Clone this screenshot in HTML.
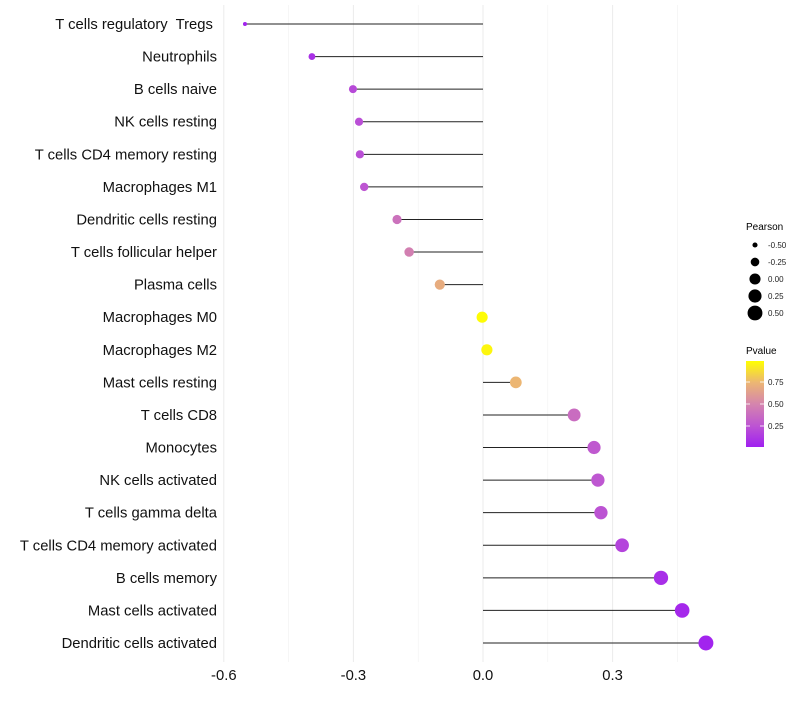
<!DOCTYPE html>
<html><head><meta charset="utf-8"><style>
body{margin:0;background:#fff;font-family:"Liberation Sans",Arial,sans-serif}
svg text{font-family:"Liberation Sans",Arial,sans-serif;white-space:pre}
</style></head><body>
<svg id="chart" width="800" height="700" viewBox="0 0 800 700" xml:space="preserve">
<defs>
<linearGradient id="pgrad" x1="0" y1="1" x2="0" y2="0">
<stop offset="0" stop-color="#a020f0"/>
<stop offset="0.25" stop-color="#bd55d2"/>
<stop offset="0.5" stop-color="#d585ad"/>
<stop offset="0.75" stop-color="#ecb673"/>
<stop offset="1" stop-color="#ffff00"/>
</linearGradient>
</defs>
<g id="grid"></g>
<g id="marks"></g>
<g id="ylabels"></g>
<g id="xlabels"></g>
<g>
<text x="746" y="230" font-size="10">Pearson</text>
<g id="sizeLegend"></g>
</g>
<g>
<text x="746" y="354" font-size="10">Pvalue</text>
<rect x="746" y="361" width="18" height="86" fill="url(#pgrad)"/>
<g id="colorLegend"></g>
</g>
</svg>
<script>
const categories=["T cells regulatory  Tregs ","Neutrophils","B cells naive","NK cells resting","T cells CD4 memory resting","Macrophages M1","Dendritic cells resting","T cells follicular helper","Plasma cells","Macrophages M0","Macrophages M2","Mast cells resting","T cells CD8","Monocytes","NK cells activated","T cells gamma delta","T cells CD4 memory activated","B cells memory","Mast cells activated","Dendritic cells activated"];
const pearson=[-0.551,-0.396,-0.301,-0.287,-0.285,-0.275,-0.199,-0.171,-0.100,-0.002,0.009,0.076,0.211,0.257,0.266,0.273,0.322,0.412,0.461,0.516];
const pvalue=[0.02,0.08,0.20,0.22,0.22,0.25,0.40,0.47,0.70,0.99,0.97,0.75,0.37,0.27,0.26,0.24,0.17,0.07,0.04,0.02];
const xTicks=[-0.6,-0.3,0.0,0.3];
const xTickLabels=["-0.6","-0.3","0.0","0.3"];
const xMinor=[-0.45,-0.15,0.15,0.45];
const sizeBreaks=[-0.5,-0.25,0,0.25,0.5];
const sizeLabels=["-0.50","-0.25","0.00","0.25","0.50"];
const colorBreaks=[0.25,0.5,0.75];
const colorLabels=["0.25","0.50","0.75"];

const NS="http://www.w3.org/2000/svg";
const X=v=>483+v*432;
const Y=i=>24+i*(643-24)/19;
const R=v=>Math.sqrt(Math.max(1,4+48.8*(v+0.551)));
const stops=[[0,[160,32,240]],[0.25,[189,85,210]],[0.5,[213,133,173]],[0.75,[236,182,115]],[1,[255,255,0]]];
function col(p){for(let k=1;k<stops.length;k++){if(p<=stops[k][0]){const a=stops[k-1],b=stops[k],t=(p-a[0])/(b[0]-a[0]);return "rgb("+a[1].map((c,j)=>Math.round(c+(b[1][j]-c)*t)).join(",")+")";}}return "rgb(255,255,0)";}
function mk(tag,at,parent){const e=document.createElementNS(NS,tag);for(const k in at)e.setAttribute(k,at[k]);parent.appendChild(e);return e;}
const grid=document.getElementById('grid');
xMinor.forEach(v=>{const l=mk('line',{x1:X(v),x2:X(v),y1:5,y2:662,stroke:'#f0f0f0','stroke-width':0.6},grid);

});
xTicks.forEach(v=>{const l=mk('line',{x1:X(v),x2:X(v),y1:5,y2:662,stroke:'#ebebeb','stroke-width':1},grid);

});
const marks=document.getElementById('marks');
categories.forEach((c,i)=>{
const l=mk('line',{x1:X(0),x2:X(pearson[i]),y1:Y(i),y2:Y(i),stroke:'#222','stroke-width':1},marks);


const d=mk('circle',{cx:X(pearson[i]),cy:Y(i),r:R(pearson[i]),fill:col(pvalue[i])},marks);


const t=mk('text',{x:217,y:Y(i)+5,'text-anchor':'end','font-size':14.8,fill:'#111'},document.getElementById('ylabels'));
t.textContent=c;


});
xTicks.forEach((v,i)=>{const t=mk('text',{x:X(v),y:680,'text-anchor':'middle','font-size':14.8,fill:'#111'},document.getElementById('xlabels'));
t.textContent=xTickLabels[i];

});
const sl=document.getElementById('sizeLegend');
sizeBreaks.forEach((v,i)=>{const y=245+i*17;
const c=mk('circle',{cx:755,cy:y,r:R(v),fill:'#000'},sl);


const t=mk('text',{x:768,y:y+3,'font-size':8,fill:'#222'},sl);t.textContent=sizeLabels[i];

});
const cl=document.getElementById('colorLegend');
colorBreaks.forEach((v,i)=>{const y=448-v*88;
const a=mk('line',{x1:746,x2:750,y1:y,y2:y,stroke:'#fff','stroke-width':0.8},cl);


const b=mk('line',{x1:760,x2:764,y1:y,y2:y,stroke:'#fff','stroke-width':0.8},cl);


const t=mk('text',{x:768,y:y+3,'font-size':8,fill:'#222'},cl);t.textContent=colorLabels[i];

});
</script>
</body></html>
